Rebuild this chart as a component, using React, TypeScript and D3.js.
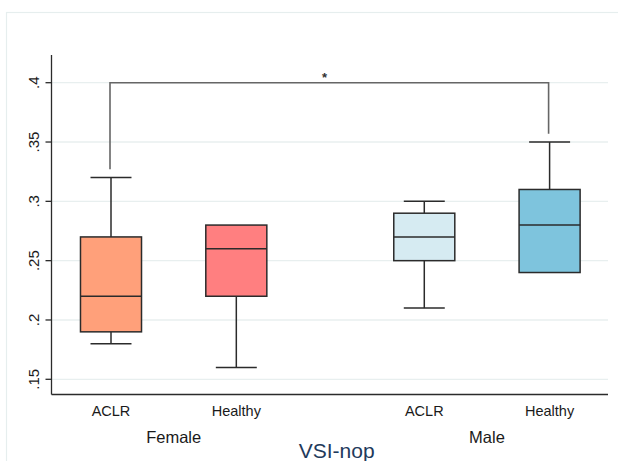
import React from "react";
import * as d3 from "d3";

// boxplot summary of VSI-nop
const groups = ["Female", "Male"];
const conditions = ["ACLR", "Healthy"];
const lowerWhisker = [0.18, 0.16, 0.21, 0.24];
const q1 = [0.19, 0.22, 0.25, 0.24];
const median = [0.22, 0.26, 0.27, 0.28];
const q3 = [0.27, 0.28, 0.29, 0.31];
const upperWhisker = [0.32, 0.28, 0.3, 0.35];
const yTicks = [0.15, 0.2, 0.25, 0.3, 0.35, 0.4];
const bracketTop = 0.4;
const bracketEnds = [0.327, 0.357];
const bracketLabel = "*";
const yTitle = "VSI-nop";

const fills = ["#ffa07a", "#ff7f80", "#d6ebf2", "#7ec4dd"];

const W = 618;
const H = 461;
const plot = { left: 51.5, right: 608, top: 55, bottom: 394.5 };

export default function App() {
  const y = d3.scaleLinear().domain([0.15, 0.4]).range([379.3, 82.7]);
  // slots: two conditions per group, half-slot gap between groups
  const x = d3.scaleLinear().domain([0, 3.5]).range([111, 549.6]);
  const slot = (g: number, c: number) => g * 2.5 + c;
  const step = x(1) - x(0);
  const boxW = step * 0.487;
  const capW = step * 0.327;
  const fmt = (d: number) => d3.format(".2~f")(d).replace(/^0/, "");

  const boxes = groups.flatMap((g, gi) =>
    conditions.map((c, ci) => ({ gi, ci, i: gi * 2 + ci, cx: x(slot(gi, ci)) }))
  );

  const font = "'Liberation Sans', Arial, sans-serif";
  const dark = "#2b2b2b";
  const bx0 = x(slot(0, 0)) - 1;
  const bx1 = x(slot(1, 1)) - 1;

  return (
    <svg width={W} height={H} style={{ position: "absolute", left: 0, top: 0, background: "#fff" }}>
      <rect x={6.5} y={12.5} width={W + 10} height={H + 10} fill="none" stroke="#e6eeee" strokeWidth={1.2} />
      {/* gridlines */}
      {yTicks.map((t) => (
        <line key={"g" + t} x1={plot.left} x2={plot.right} y1={y(t)} y2={y(t)} stroke="#e8efef" strokeWidth={1.3} />
      ))}
      {/* y axis */}
      <line x1={plot.left} x2={plot.left} y1={plot.top} y2={plot.bottom} stroke={dark} strokeWidth={1.3} />
      {yTicks.map((t) => (
        <g key={"t" + t}>
          <line x1={plot.left - 6} x2={plot.left} y1={y(t)} y2={y(t)} stroke={dark} strokeWidth={1.3} />
          <text
            transform={`translate(38.5,${y(t)}) rotate(-90)`}
            textAnchor="middle"
            fontFamily={font}
            fontSize={15}
            fill="#1a1a1a"
          >
            {fmt(t)}
          </text>
        </g>
      ))}
      {/* x axis */}
      <line x1={plot.left} x2={plot.right} y1={plot.bottom} y2={plot.bottom} stroke={dark} strokeWidth={1.3} />
      {boxes.map((b) => (
        <text key={"xl" + b.i} x={b.cx} y={416} textAnchor="middle" fontFamily={font} fontSize={14.5} fill="#1a1a1a">
          {conditions[b.ci]}
        </text>
      ))}
      {groups.map((g, gi) => (
        <text
          key={"gl" + g}
          x={(x(slot(gi, 0)) + x(slot(gi, 1))) / 2}
          y={442.7}
          textAnchor="middle"
          fontFamily={font}
          fontSize={16.5}
          fill="#1a1a1a"
        >
          {g}
        </text>
      ))}
      <text x={336.7} y={458.3} textAnchor="middle" fontFamily={font} fontSize={21} fill="#1f3a5c">
        {yTitle}
      </text>

      {/* boxes */}
      {boxes.map((b) => {
        const i = b.i;
        return (
          <g key={"b" + i} stroke={dark} strokeWidth={1.5}>
            {upperWhisker[i] > q3[i] && (
              <>
                <line x1={b.cx} x2={b.cx} y1={y(q3[i])} y2={y(upperWhisker[i])} />
                <line x1={b.cx - capW / 2} x2={b.cx + capW / 2} y1={y(upperWhisker[i])} y2={y(upperWhisker[i])} />
              </>
            )}
            {lowerWhisker[i] < q1[i] && (
              <>
                <line x1={b.cx} x2={b.cx} y1={y(q1[i])} y2={y(lowerWhisker[i])} />
                <line x1={b.cx - capW / 2} x2={b.cx + capW / 2} y1={y(lowerWhisker[i])} y2={y(lowerWhisker[i])} />
              </>
            )}
            <rect
              x={b.cx - boxW / 2}
              y={y(q3[i])}
              width={boxW}
              height={y(q1[i]) - y(q3[i])}
              fill={fills[i]}
            />
            <line x1={b.cx - boxW / 2} x2={b.cx + boxW / 2} y1={y(median[i])} y2={y(median[i])} />
          </g>
        );
      })}

      {/* significance bracket */}
      <path
        d={`M${bx0},${y(bracketTop) + (y(bracketEnds[0]) - y(bracketTop))}V${y(bracketTop)}H${bx1}V${y(bracketEnds[1])}`}
        fill="none"
        stroke="#666"
        strokeWidth={1.6}
      />
      <text x={324.5} y={82} textAnchor="middle" fontFamily={font} fontSize={13} fontWeight="bold" fill="#333">
        {bracketLabel}
      </text>
    </svg>
  );
}
